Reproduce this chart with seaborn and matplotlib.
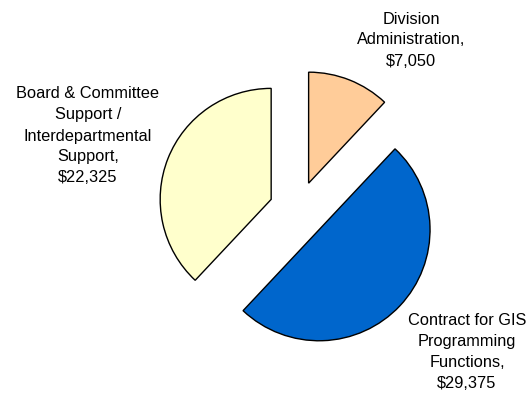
import matplotlib
matplotlib.use("Agg")
import matplotlib.pyplot as plt
import seaborn as sns

sns.set_theme(style="white")
plt.rcParams['font.family'] = ['Liberation Sans', 'DejaVu Sans']

categories = ["Division\nAdministration", "Contract for GIS\nProgramming\nFunctions",
              "Board & Committee\nSupport /\nInterdepartmental\nSupport"]
values = [7050, 29375, 22325]
colors = ["#FFCC99", "#0066CC", "#FFFFCC"]

W, H = 530, 393
fig = plt.figure(figsize=(W / 100, H / 100), dpi=100)
ax = fig.add_axes([0, 0, 1, 1])

# pie centre in pixels and radius in pixels
cx, cy, r = 298, 210, 111
ax.pie(values, colors=colors, startangle=90, counterclock=False,
       explode=[0.26] * len(values),
       wedgeprops=dict(edgecolor="black", linewidth=1.0))
ax.set_aspect("auto")
ax.set_xlim(-cx / r, (W - cx) / r)
ax.set_ylim((cy - H) / r, cy / r)
ax.axis("off")

label_pos = [(411, 40), (467, 352), (88, 136)]
for name, val, (px, py) in zip(categories, values, label_pos):
    fig.text(px / W, 1 - py / H, f"{name},\n${val:,}", ha="center", va="center",
             fontsize=11.8, linespacing=1.5, color="black")

fig.savefig("out.png", dpi=100)
